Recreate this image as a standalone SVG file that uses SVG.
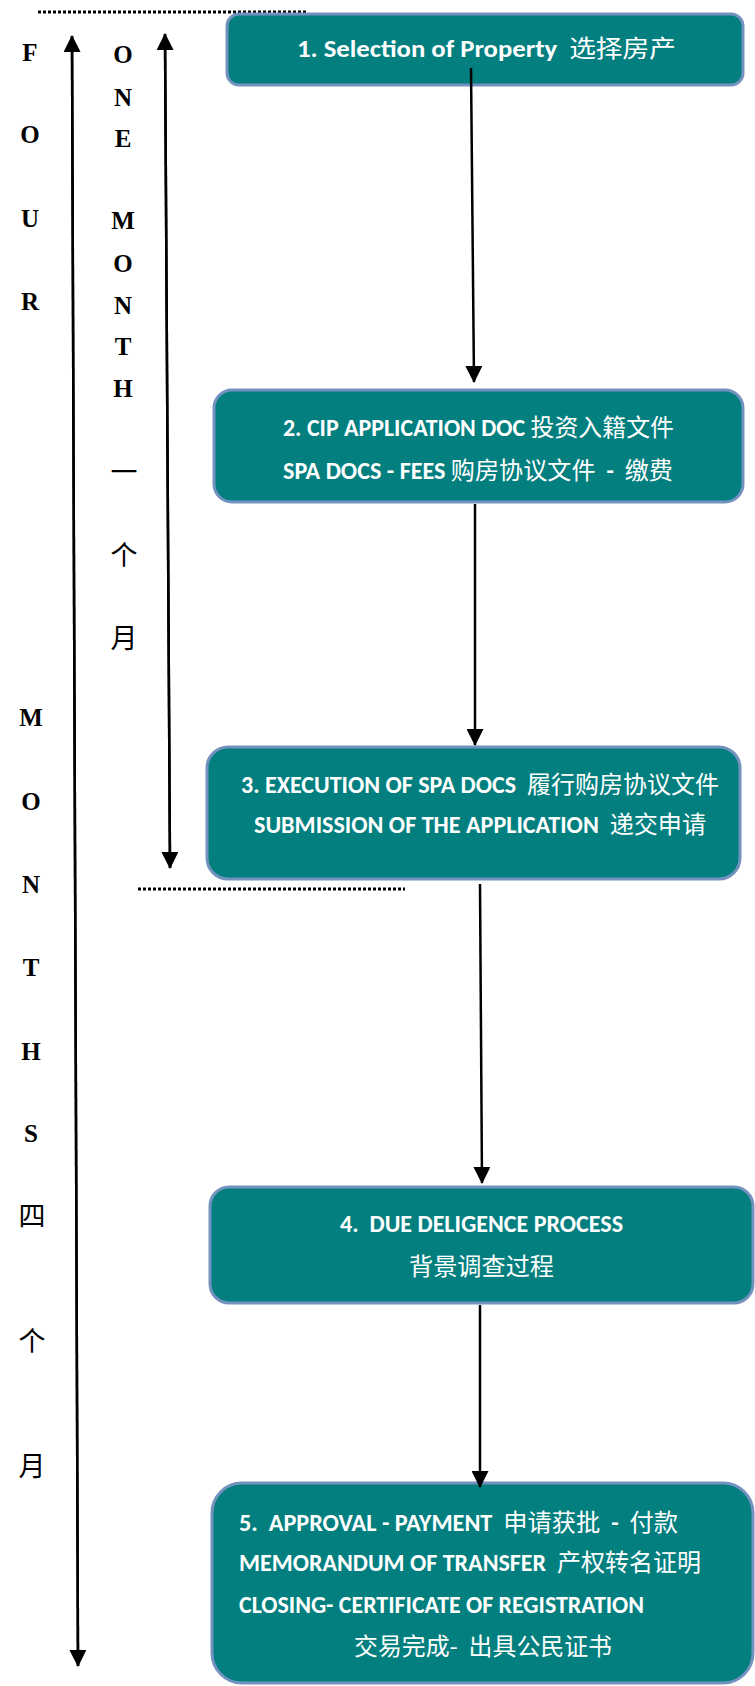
<svg xmlns="http://www.w3.org/2000/svg" width="755" height="1686" viewBox="0 0 755 1686">
<defs>
<marker id="ah" markerUnits="userSpaceOnUse" markerWidth="17" markerHeight="17" viewBox="0 0 17 17" refX="16" refY="8.5" orient="auto">
<path d="M0,0 L17,8.5 L0,17 Z" fill="#000"/>
</marker>
<style>
.box{fill:#037f7f;stroke:#7392bf;stroke-width:3}
.t{fill:#fff;font-family:Carlito,Lato,"Noto Sans CJK SC",sans-serif;font-weight:bold;font-size:24px}
.cj{font-family:"Noto Sans CJK SC",sans-serif;font-weight:normal}
.side{fill:#000;font-family:"Liberation Serif","Noto Sans CJK SC",serif;font-weight:bold;font-size:25px;text-anchor:middle}
.sidecj{fill:#000;font-family:"Noto Sans CJK SC",serif;font-weight:normal;font-size:27px;text-anchor:middle}
.arr{stroke:#000;stroke-width:2.5;fill:none}
.dot{stroke:#000;stroke-width:3;stroke-dasharray:3 2;fill:none}
</style>
</defs>
<rect width="755" height="1686" fill="#fff"/>

<g id="guides">
<line class="dot" x1="38" y1="12" x2="307" y2="12"/>
<line class="dot" x1="138" y1="889" x2="405" y2="889"/>
</g>

<g id="four-months">
<line class="arr" x1="78" y1="1666" x2="72" y2="36" marker-end="url(#ah)"/>
<line class="arr" x1="72" y1="36" x2="78" y2="1666" marker-end="url(#ah)"/>
<text class="side" x="30" y="61">F</text>
<text class="side" x="30" y="143">O</text>
<text class="side" x="30" y="227">U</text>
<text class="side" x="30" y="310">R</text>
<text class="side" x="31" y="726">M</text>
<text class="side" x="31" y="810">O</text>
<text class="side" x="31" y="893">N</text>
<text class="side" x="31" y="976">T</text>
<text class="side" x="31" y="1060">H</text>
<text class="side" x="31" y="1142">S</text>
<text class="sidecj" x="32" y="1226">四</text>
<text class="sidecj" x="32" y="1351">个</text>
<text class="sidecj" x="32" y="1476">月</text>
</g>

<g id="one-month">
<line class="arr" x1="170" y1="868" x2="165" y2="34" marker-end="url(#ah)"/>
<line class="arr" x1="165" y1="34" x2="170" y2="868" marker-end="url(#ah)"/>
<text class="side" x="123" y="63">O</text>
<text class="side" x="123" y="106">N</text>
<text class="side" x="123" y="147">E</text>
<text class="side" x="123" y="229">M</text>
<text class="side" x="123" y="272">O</text>
<text class="side" x="123" y="314">N</text>
<text class="side" x="123" y="355">T</text>
<text class="side" x="123" y="397">H</text>
<text class="sidecj" x="124" y="482">一</text>
<text class="sidecj" x="124" y="565">个</text>
<text class="sidecj" x="124" y="648">月</text>
</g>

<g id="node1">
<rect class="box" x="227" y="14" width="516" height="71" rx="12"/>
<text class="t" xml:space="preserve" x="297" y="57" font-size="25" textLength="379" lengthAdjust="spacingAndGlyphs">1. Selection of Property  <tspan class="cj">选择房产</tspan></text>
</g>

<g id="node2">
<rect class="box" x="214" y="390" width="529" height="112" rx="18"/>
<text class="t" xml:space="preserve" x="283" y="436" textLength="391" lengthAdjust="spacingAndGlyphs">2. CIP APPLICATION DOC <tspan class="cj">投资入籍文件</tspan></text>
<text class="t" xml:space="preserve" x="283" y="479" textLength="390" lengthAdjust="spacingAndGlyphs">SPA DOCS - FEES <tspan class="cj">购房协议文件</tspan>  -  <tspan class="cj">缴费</tspan></text>
</g>

<g id="node3">
<rect class="box" x="207" y="747" width="533" height="132" rx="21"/>
<text class="t" xml:space="preserve" x="241" y="793" textLength="478" lengthAdjust="spacingAndGlyphs">3. EXECUTION OF SPA DOCS  <tspan class="cj">履行购房协议文件</tspan></text>
<text class="t" xml:space="preserve" x="254" y="833" textLength="452" lengthAdjust="spacingAndGlyphs">SUBMISSION OF THE APPLICATION  <tspan class="cj">递交申请</tspan></text>
</g>

<g id="node4">
<rect class="box" x="210" y="1187" width="543" height="116" rx="19"/>
<text class="t" xml:space="preserve" x="340" y="1232" textLength="283" lengthAdjust="spacingAndGlyphs">4.  DUE DELIGENCE PROCESS</text>
<text class="t" x="409" y="1275" textLength="145" lengthAdjust="spacingAndGlyphs"><tspan class="cj">背景调查过程</tspan></text>
</g>

<g id="node5">
<rect class="box" x="212" y="1483" width="541" height="200" rx="30"/>
<text class="t" xml:space="preserve" x="239" y="1531" textLength="439" lengthAdjust="spacingAndGlyphs">5.  APPROVAL - PAYMENT  <tspan class="cj">申请获批</tspan>  -  <tspan class="cj">付款</tspan></text>
<text class="t" xml:space="preserve" x="239" y="1571" textLength="462" lengthAdjust="spacingAndGlyphs">MEMORANDUM OF TRANSFER  <tspan class="cj">产权转名证明</tspan></text>
<text class="t" x="239" y="1613" textLength="405" lengthAdjust="spacingAndGlyphs">CLOSING- CERTIFICATE OF REGISTRATION</text>
<text class="t" xml:space="preserve" x="354" y="1655" textLength="258" lengthAdjust="spacingAndGlyphs"><tspan class="cj">交易完成-  出具公民证书</tspan></text>
</g>

<g id="connectors">
<line class="arr" x1="471" y1="68" x2="474" y2="382" marker-end="url(#ah)"/>
<line class="arr" x1="475" y1="504" x2="475" y2="745" marker-end="url(#ah)"/>
<line class="arr" x1="480" y1="884" x2="482" y2="1183" marker-end="url(#ah)"/>
<line class="arr" x1="480" y1="1305" x2="480" y2="1487" marker-end="url(#ah)"/>
</g>
</svg>
